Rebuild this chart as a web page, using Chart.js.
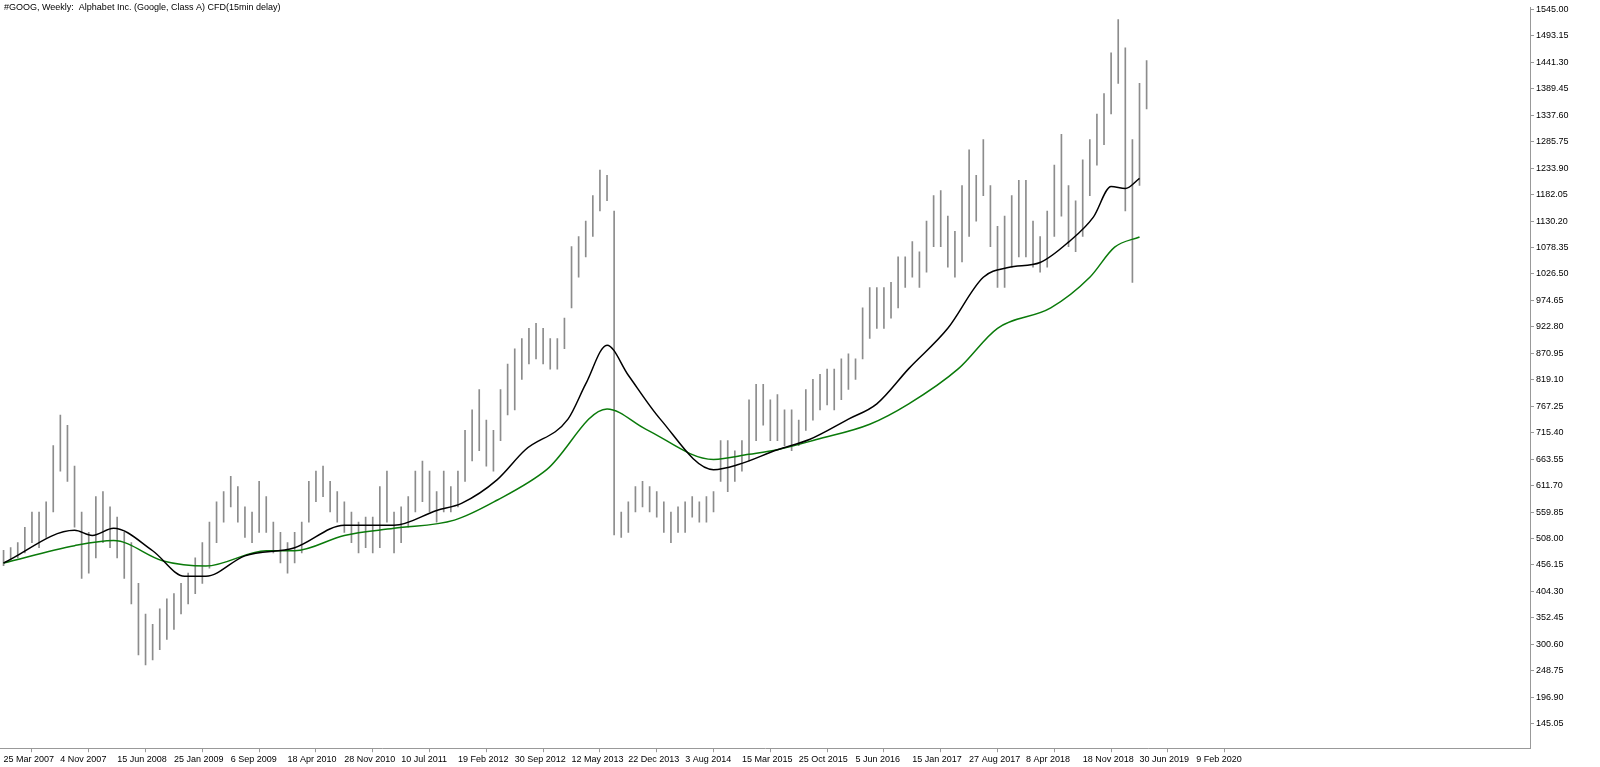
<!DOCTYPE html>
<html><head><meta charset="utf-8">
<script src="https://cdn.jsdelivr.net/npm/chart.js@4"></script>
<style>html,body{margin:0;padding:0;background:#fff}#w{width:1600px;height:767px}</style>
</head><body><div id="w"><canvas id="c"></canvas></div>
<script>
const title = "#GOOG, Weekly:  Alphabet Inc. (Google, Class A) CFD(15min delay)";
const dateLabels = ["25 Mar 2007","4 Nov 2007","15 Jun 2008","25 Jan 2009","6 Sep 2009","18 Apr 2010","28 Nov 2010","10 Jul 2011","19 Feb 2012","30 Sep 2012","12 May 2013","22 Dec 2013","3 Aug 2014","15 Mar 2015","25 Oct 2015","5 Jun 2016","15 Jan 2017","27 Aug 2017","8 Apr 2018","18 Nov 2018","30 Jun 2019","9 Feb 2020"];
// bar lows/highs, one entry every 2 bars
const lows  = [455,465,470,480,500,490,510,560,640,620,530,430,440,470,500,490,470,430,380,280,260,270,290,310,330,360,380,400,420,450,500,540,570,540,510,500,520,520,480,460,440,460,480,540,580,590,560,540,520,500,480,490,480,490,540,480,500,530,560,580,560,540,560,560,570,620,660,680,650,640,700,750,760,820,850,860,850,840,840,880,960,1020,1060,1100,1150,1170,515,510,520,560,570,560,550,520,500,520,520,550,540,540,560,620,600,620,640,660,700,730,700,700,690,680,690,720,740,760,770,760,780,800,820,860,900,920,920,940,960,1000,1020,1000,1030,1080,1080,1040,1020,1050,1100,1130,1180,1080,1000,1000,1040,1060,1060,1040,1030,1040,1100,1140,1080,1070,1100,1180,1240,1280,1340,1400,1150,1010,1200,1350];
const highs = [485,490,500,530,560,560,580,690,750,730,650,560,520,590,600,570,550,520,500,420,360,340,370,390,400,420,440,470,500,540,580,600,630,610,570,560,620,590,540,520,500,520,540,620,640,650,620,600,580,560,540,550,550,610,640,560,570,590,640,660,640,600,640,610,640,720,760,800,740,720,800,850,880,900,920,930,920,900,900,940,1080,1100,1130,1180,1230,1220,1150,560,580,610,620,610,600,580,560,570,580,590,580,590,600,700,700,680,700,780,810,810,780,790,760,760,740,800,820,830,840,840,860,870,860,960,1000,1000,1000,1010,1060,1060,1090,1070,1130,1180,1190,1140,1110,1200,1270,1220,1290,1200,1120,1140,1180,1210,1210,1130,1100,1150,1240,1300,1200,1170,1250,1290,1340,1380,1460,1525,1470,1290,1400,1445];
const blackIdx = [0,20,25,31,42,51,57,68,82,96,110,122,129,139,147,159,164,170,176,185,200,207,218,227,238,246,255,266,276,283,292,300,307,312,316,320];
const blackVal = [460,524,514,528,484,434,434,474,490,534,534,563,577,623,682,742,811,887,828,742,643,653,682,702,742,772,841,920,1020,1039,1049,1089,1138,1198,1194,1214];
const greenIdx = [0,20,31,45,57,74,82,96,110,127,139,153,170,181,200,210,218,229,244,255,269,280,295,306,313,320];
const greenVal = [460,494,504,464,454,484,484,514,528,544,583,643,762,722,663,673,682,702,732,772,841,920,960,1020,1079,1099];

const bars = lows.map((l,i)=>({x:i*2, y:[l, highs[i]]}));
const black = blackIdx.map((x,i)=>({x, y:blackVal[i]}));
const green = greenIdx.map((x,i)=>({x, y:greenVal[i]}));
const yTicks = []; for(let k=0;k<=27;k++) yTicks.push(145.05+k*51.85);

const titlePlugin = {id:'t', afterDraw(ch){const c=ch.ctx;c.save();c.font='9px "Liberation Sans"';c.fillStyle='#000';c.textBaseline='top';c.fillText(title,4,3);c.restore();}};

new Chart(document.getElementById('c'),{
  type:'bar',
  data:{datasets:[
    {type:'line',data:black,borderColor:'#000',borderWidth:1.5,pointRadius:0,cubicInterpolationMode:'monotone',order:0},
    {type:'line',data:green,borderColor:'#0a7a0a',borderWidth:1.5,pointRadius:0,cubicInterpolationMode:'monotone',order:1},
    {type:'bar',data:bars,backgroundColor:'#8c8c8c',barThickness:1,order:2}
  ]},
  plugins:[titlePlugin],
  options:{responsive:true,maintainAspectRatio:false,animation:false,
    layout:{padding:{top:3,left:0,right:0,bottom:0}},
    plugins:{legend:{display:false},tooltip:{enabled:false}},
    scales:{
      x:{type:'linear',min:-1,max:430,offset:false,
        afterBuildTicks:s=>{s.ticks=dateLabels.map((_,i)=>({value:i*16}));},
        ticks:{autoSkip:false,maxRotation:0,align:'start',font:{family:'Liberation Sans',size:9},color:'#000',padding:2,
          callback:(v)=>dateLabels[Math.round(v/16)]},
        grid:{drawOnChartArea:false,tickLength:4,color:'#999'},border:{color:'#999'}},
      y:{position:'right',min:97,max:1549,
        afterBuildTicks:s=>{s.ticks=yTicks.map(v=>({value:v}));},
        ticks:{autoSkip:false,font:{family:'Liberation Sans',size:9},color:'#000',padding:2,callback:v=>v.toFixed(2)},
        grid:{drawOnChartArea:false,tickLength:4,color:'#999'},border:{color:'#999'},afterFit:s=>{s.width=70;}}
    }
  }
});
</script></body></html>
